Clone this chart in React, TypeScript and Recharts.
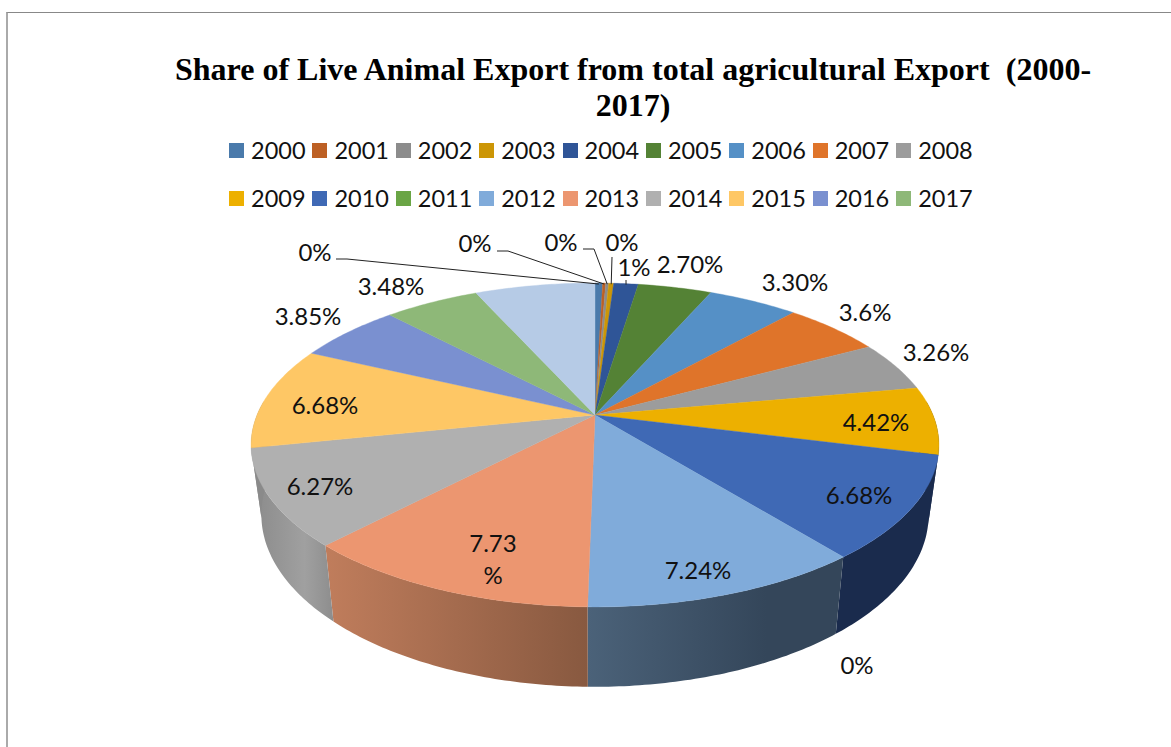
import React from "react";
import { PieChart, Pie, Legend } from "recharts";

// Chart content
const chartTitleLines = [
  "Share of Live Animal Export from total agricultural Export  (2000-",
  "2017)",
];
const years = [
  "2000", "2001", "2002", "2003", "2004", "2005", "2006", "2007", "2008", "2009",
  "2010", "2011", "2012", "2013", "2014", "2015", "2016", "2017", "",
];
const shares = [
  0.28, 0.11, 0.11, 0.18, 0.9, 2.7, 3.3, 3.6, 3.26, 4.42,
  6.68, 0, 7.24, 7.73, 6.27, 6.68, 3.85, 3.48, 4.4,
];
const shareLabels = [
  "0%", "0%", "0%", "0%", "1%", "2.70%", "3.30%", "3.6%", "3.26%", "4.42%",
  "6.68%", "0%", "7.24%", "7.73\n%", "6.27%", "6.68%", "3.85%", "3.48%", "",
];

// Slice colours
const sliceColors = [
  "#4a7aab", "#bd6024", "#8c8c8c", "#cc9606", "#2f5597", "#548235", "#5590c6",
  "#df742a", "#9c9c9c", "#edb000", "#3f69b5", "#6aa545", "#80abda", "#ec9670",
  "#b0b0b0", "#fec765", "#7a90d0", "#8eb878", "#b6cbe6",
];

// Rim shading of the slices that face the viewer: [offset, colour] stops
const wallStops: Record<string, [number, string][]> = {
  "2009": [[0, "#1a2b4d"], [1, "#1a2b4d"]],
  "2010": [[0, "#1a2b4d"], [1, "#1a2b4d"]],
  "2012": [[0, "#4b6279"], [0.7, "#34465a"], [1, "#34465a"]],
  "2013": [[0, "#c07d5c"], [1, "#885940"]],
  "2014": [[0, "#8a8a8a"], [0.65, "#a0a0a0"], [1, "#8d8d8d"]],
  "2015": [[0, "#8a8a8a"], [1, "#8a8a8a"]],
};

// Label placement: centre of the text, plus the bend points of any leader line
type LabelSpot = { x: number; y: number; leader?: [number, number][] };
const labelSpots: LabelSpot[] = [
  { x: 315, y: 251, leader: [[336, 259], [347, 259]] },
  { x: 475, y: 242, leader: [[497, 251], [508, 251]] },
  { x: 561, y: 241, leader: [[583, 249], [594, 249]] },
  { x: 622, y: 241, leader: [[612, 257]] },
  { x: 634, y: 266, leader: [[626, 280]] },
  { x: 690, y: 263 },
  { x: 795, y: 281 },
  { x: 865, y: 311 },
  { x: 936, y: 351 },
  { x: 876, y: 421 },
  { x: 859, y: 494 },
  { x: 857, y: 664 },
  { x: 698, y: 569 },
  { x: 493, y: 542 },
  { x: 320, y: 485 },
  { x: 325, y: 404 },
  { x: 308, y: 315 },
  { x: 391, y: 285 },
  { x: 0, y: 0 },
];

const pieRows = years.map((year, i) => ({
  name: year,
  value: shares[i],
  fill: sliceColors[i],
}));

// Tilted-disc projection
const TILT = 0.4627;
const PERSPECTIVE = 0.185;
const BOTTOM_CY_OFFSET = 68;
const BOTTOM_SCALE_X = 0.97;
const BOTTOM_SCALE_Y = 1.062;

function rimPoint(cx: number, cy: number, r: number, clockDeg: number, bottom = false) {
  const t = (clockDeg * Math.PI) / 180;
  const u = Math.sin(t);
  const v = Math.cos(t);
  const w = 1 + PERSPECTIVE * v;
  const sx = bottom ? BOTTOM_SCALE_X : 1;
  const sy = bottom ? BOTTOM_SCALE_Y : 1;
  const y0 = bottom ? cy + BOTTOM_CY_OFFSET : cy;
  return [cx + (sx * r * u) / w, y0 - (sy * r * TILT * v) / w] as const;
}

function arcSamples(from: number, to: number) {
  const steps = Math.max(1, Math.ceil((to - from) / 0.75));
  return Array.from({ length: steps + 1 }, (_, i) => from + ((to - from) * i) / steps);
}

const toPath = (pts: readonly (readonly [number, number])[]) =>
  "M" + pts.map((p) => `${p[0].toFixed(2)},${p[1].toFixed(2)}`).join("L") + "Z";

// Upper face of a slice
function TopFace(props: any) {
  const { cx, cy, outerRadius, startAngle, endAngle, fill } = props;
  const from = 90 - startAngle;
  const to = 90 - endAngle;
  if (to - from <= 0) return <g />;
  const rim = arcSamples(from, to).map((a) => rimPoint(cx, cy, outerRadius, a));
  return <path d={toPath([[cx, cy], ...rim])} fill={fill} stroke={fill} strokeWidth={0.4} />;
}

// Outer wall of a slice, only on the near half of the disc
function SideWall(props: any) {
  const { cx, cy, outerRadius, startAngle, endAngle, fill, name, payload } = props;
  const from = Math.max(90 - startAngle, 85);
  const to = Math.min(90 - endAngle, 275);
  if (to - from <= 0) return <g />;
  const samples = arcSamples(from, to);
  const upper = samples.map((a) => rimPoint(cx, cy, outerRadius, a));
  const lower = samples.map((a) => rimPoint(cx, cy, outerRadius, a, true)).reverse();
  const year = name ?? payload?.name;
  const stops = wallStops[year] ?? [[0, fill], [1, fill]];
  const id = `wall-${year}`;
  return (
    <g>
      <defs>
        <linearGradient id={id} x1="0" x2="1" y1="0" y2="0">
          {stops.map(([o, c]) => (
            <stop key={o} offset={o} stopColor={c} />
          ))}
        </linearGradient>
      </defs>
      <path d={toPath([...upper, ...lower])} fill={`url(#${id})`} />
    </g>
  );
}

const CX = 595;
const CY = 415;
const RADIUS = 338;

function SliceLabel(props: any) {
  const { index, startAngle, endAngle } = props;
  const text = shareLabels[index];
  if (!text) return <g />;
  const spot = labelSpots[index];
  const mid = 90 - (startAngle + endAngle) / 2;
  const lines = text.split("\n");
  const anchor = rimPoint(CX, CY, RADIUS, mid);
  const leaderPts = spot.leader ? [...spot.leader, [anchor[0], anchor[1] + 1]] : null;
  return (
    <g>
      {leaderPts && (
        <polyline
          points={leaderPts.map((p) => p.join(",")).join(" ")}
          fill="none"
          stroke="#222"
          strokeWidth={1}
        />
      )}
      {lines.map((line: string, i: number) => (
        <text
          key={i}
          x={spot.x}
          y={spot.y + i * 32}
          textAnchor="middle"
          dominantBaseline="central"
          fontFamily="Lato, sans-serif"
          fontSize={24}
          fill="#111"
        >
          {line}
        </text>
      ))}
    </g>
  );
}

function YearLegend({ payload }: any) {
  // Both pies report the same names, so each year is listed once
  const seen = new Set<string>();
  const items = (payload ?? []).filter((p: any) => {
    if (!p.value || seen.has(p.value)) return false;
    seen.add(p.value);
    return true;
  });
  return (
    <div
      style={{
        display: "grid",
        gridTemplateColumns: "repeat(9, 83.4px)",
        gridAutoRows: "48px",
        fontFamily: "Lato, sans-serif",
        fontSize: 23.5,
        color: "#111",
      }}
    >
      {items.map((p: any) => (
        <div key={p.value} style={{ display: "flex", alignItems: "center" }}>
          <span style={{ width: 15, height: 15, background: p.color, marginRight: 7, flex: "none" }} />
          <span>{p.value}</span>
        </div>
      ))}
    </div>
  );
}

export default function App() {
  return (
    <div style={{ position: "absolute", left: 0, top: 0, width: 1171, height: 747, overflow: "hidden", background: "#fff" }}>
      <div style={{ position: "absolute", left: 6, top: 12, width: 1170, height: 740, borderTop: "1px solid #888", borderLeft: "2px solid #aaa" }} />
      {chartTitleLines.map((line, i) => (
        <div
          key={i}
          style={{
            position: "absolute",
            left: 0,
            width: 1266,
            top: 50 + i * 36,
            textAlign: "center",
            whiteSpace: "pre",
            fontFamily: "'Liberation Serif', serif",
            fontWeight: 700,
            fontSize: 32,
            lineHeight: "38px",
            color: "#000",
          }}
        >
          {line}
        </div>
      ))}
      <PieChart width={1171} height={747} margin={{ top: 0, right: 0, bottom: 0, left: 0 }} style={{ position: "absolute", left: 0, top: 0 }}>
        <Legend
          content={<YearLegend />}
          wrapperStyle={{ position: "absolute", left: 229, top: 126, width: 760, height: 96 }}
        />
        <Pie
          data={pieRows}
          dataKey="value"
          nameKey="name"
          cx={CX}
          cy={CY}
          innerRadius={0}
          outerRadius={RADIUS}
          startAngle={90}
          endAngle={-270}
          legendType="none"
          shape={SideWall}
          label={false}
          labelLine={false}
          isAnimationActive={false}
        />
        <Pie
          data={pieRows}
          dataKey="value"
          nameKey="name"
          cx={CX}
          cy={CY}
          innerRadius={0}
          outerRadius={RADIUS}
          startAngle={90}
          endAngle={-270}
          shape={TopFace}
          label={SliceLabel}
          labelLine={false}
          isAnimationActive={false}
        />
      </PieChart>
    </div>
  );
}
